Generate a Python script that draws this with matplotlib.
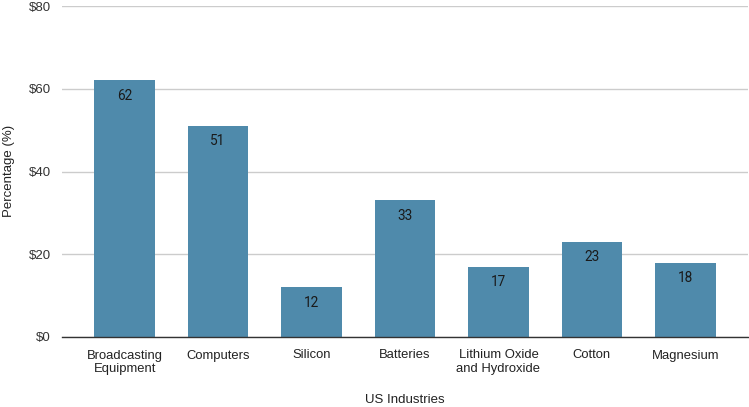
import matplotlib
matplotlib.use("Agg")
import matplotlib.pyplot as plt

categories = ["Broadcasting\nEquipment", "Computers", "Silicon", "Batteries",
              "Lithium Oxide\nand Hydroxide", "Cotton", "Magnesium"]
values = [62, 51, 12, 33, 17, 23, 18]
yticks = [0, 20, 40, 60, 80]
ytick_labels = ["$0", "$20", "$40", "$60", "$80"]

W, H = 749, 407
fig = plt.figure(figsize=(W / 100, H / 100), dpi=100)
ax = fig.add_axes([62 / W, 1 - 337 / H, (748 - 62) / W, (337 - 6) / H])

FONT = "Liberation Sans"
x = list(range(len(categories)))
bars = ax.bar(x, values, width=0.65, color="#4f8aab", zorder=3)
for b, v in zip(bars, values):
    ax.text(b.get_x() + b.get_width() / 2, v - 2.0, f"{v}", ha="center", va="top",
            fontsize=9.8, family="Roboto", color="#1a1a1a", zorder=4)

ax.set_xlim(-0.67, 6.67)
ax.set_ylim(0, 80)
ax.set_yticks(yticks)
ax.set_yticklabels(ytick_labels, family=FONT, fontsize=9.5, color="#333333")
ax.set_xticks(x)
ax.set_xticklabels(categories, family=FONT, fontsize=9.4, color="#222222",
                   linespacing=1.15)
ax.tick_params(axis="x", length=0, pad=9)
ax.tick_params(axis="y", length=0, pad=8)
ax.grid(axis="y", color="#cccccc", linewidth=1, zorder=0)
for s in ["top", "right", "left"]:
    ax.spines[s].set_visible(False)
ax.spines["bottom"].set_color("#333333")
ax.spines["bottom"].set_linewidth(1)
ax.spines["bottom"].set_zorder(5)

fig.text(405 / W, 1 - 400 / H, "US Industries", ha="center", va="center",
         family=FONT, fontsize=9.5, color="#222222")
fig.text(9 / W, 1 - 171 / H, "Percentage (%)", ha="center", va="center", rotation=90,
         family=FONT, fontsize=9.5, color="#222222")

fig.savefig("out.png", dpi=100)
